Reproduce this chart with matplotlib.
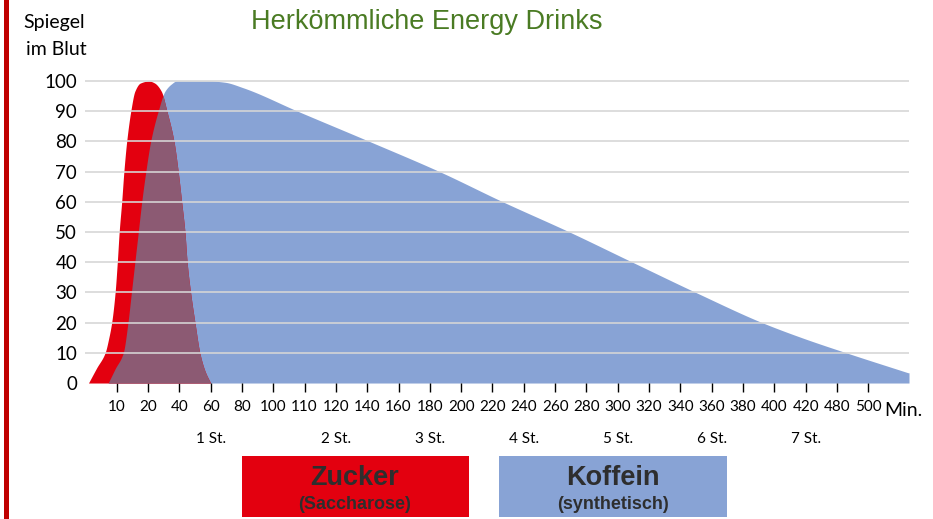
import matplotlib.pyplot as plt
import numpy as np
from matplotlib.patches import Rectangle

plt.rcParams['font.family'] = ['Lato', 'DejaVu Sans']

# x axis: minutes after intake (non-uniform labels, evenly spaced)
tick_minutes = [10, 20, 40, 60, 80, 100, 110, 120, 140, 160, 180, 200, 220, 240,
                260, 280, 300, 320, 340, 360, 380, 400, 420, 480, 500]
hour_labels = ['1 St.', '2 St.', '3 St.', '4 St.', '5 St.', '6 St.', '7 St.']
hour_minutes = [60, 120, 180, 240, 300, 360, 420]

# level in blood (%)
sugar_min = [1, 3.6, 6.3, 7.5, 8.4, 9.5, 10.2, 10.8, 11.6, 12.3, 13.2, 14.5, 15.8, 17.5,
             20.6, 24, 28.5, 32.1, 36.6, 39.3, 41.5, 43.6, 45.0, 47.2, 50, 53.1, 56.4, 60]
sugar_val = [0, 5, 10, 15, 20, 30, 40, 50, 60, 70, 80, 90, 96.6, 99.3,
             100, 99.4, 96.6, 90, 80, 70, 60, 50, 40, 30, 20, 10, 4, 0]

caffeine_min = [7.3, 9.5, 12.1, 13.6, 14.7, 15.8, 16.9, 18.0, 19.3, 21.7, 26.5, 30.8, 34.9,
                38.2, 59.6, 69, 80.6, 107.8, 141.4, 186.2, 226.6, 269.2, 309.4,
                349.8, 392.2, 417.6, 486, 525.4]
caffeine_val = [0, 4.7, 10, 20, 30, 40, 50, 60, 70, 80, 90, 96.6, 99,
                100, 100, 99.6, 97.8, 90, 80, 70, 60, 50, 40,
                30, 20, 15, 10, 3.4]

# piecewise mapping minutes -> slot on the axis
scale_min = [0] + tick_minutes + [540]
scale_pos = list(np.arange(-1, len(tick_minutes))) + [len(tick_minutes) + 1]


def to_pos(m):
    return np.interp(m, scale_min, scale_pos)


def pchip(x, y, xn):
    # monotone cubic (Fritsch-Carlson), keeps the curves smooth without overshoot
    x = np.asarray(x, float)
    y = np.asarray(y, float)
    h = np.diff(x)
    d = np.diff(y) / h
    m = np.zeros_like(y)
    for k in range(1, len(x) - 1):
        if d[k - 1] * d[k] > 0:
            w1 = 2 * h[k] + h[k - 1]
            w2 = h[k] + 2 * h[k - 1]
            m[k] = (w1 + w2) / (w1 / d[k - 1] + w2 / d[k])
    m[0] = d[0]
    m[-1] = d[-1]
    out = np.zeros_like(xn)
    inside = (xn >= x[0]) & (xn <= x[-1])
    xi = xn[inside]
    k = np.clip(np.searchsorted(x, xi) - 1, 0, len(x) - 2)
    t = (xi - x[k]) / h[k]
    h00 = 2 * t**3 - 3 * t**2 + 1
    h10 = t**3 - 2 * t**2 + t
    h01 = -2 * t**3 + 3 * t**2
    h11 = t**3 - t**2
    out[inside] = h00 * y[k] + h10 * h[k] * m[k] + h01 * y[k + 1] + h11 * h[k] * m[k + 1]
    out[xn > x[-1]] = y[-1]
    return out


RED = '#e3000f'
BLUE = '#88a3d5'
MIX = '#8c5a73'

fig = plt.figure(figsize=(9.33, 5.19), dpi=100)
ax = fig.add_axes([85.35 / 933, 0.262, 0.8828, 0.611])

xs = np.linspace(-1, 25.3, 4000)
red_y = pchip(to_pos(sugar_min), sugar_val, xs)
red_y[xs > to_pos(sugar_min[-1])] = 0
blue_y = pchip(to_pos(caffeine_min), caffeine_val, xs)

ax.fill_between(xs, 0, blue_y, color=BLUE, lw=0, zorder=1)
ax.fill_between(xs, 0, red_y, color=RED, lw=0, zorder=2)
ax.fill_between(xs, 0, np.minimum(red_y, blue_y), color=MIX, lw=0, zorder=2.5)

for v in range(10, 101, 10):
    ax.axhline(v, color='#d6d6d6', lw=1.3, alpha=0.9, zorder=3)

ax.set_xlim(-1, 25.3)
ax.set_ylim(0, 105)
for s in ax.spines.values():
    s.set_visible(False)
ax.patch.set_visible(False)

ax.set_yticks(range(0, 101, 10))
ax.tick_params(axis='y', length=0, pad=6, labelsize=13.5)
ax.set_xticks(to_pos(tick_minutes))
ax.set_xticklabels([str(t) for t in tick_minutes])
ax.tick_params(axis='x', direction='out', length=6.5, width=1, color='black',
               pad=6, labelsize=11)

for lab, m in zip(hour_labels, hour_minutes):
    ax.annotate(lab, xy=(to_pos(m), 0), xycoords=('data', 'axes fraction'),
                xytext=(0, -43.2), textcoords='offset points',
                ha='center', va='baseline', fontsize=11)
ax.annotate('Min.', xy=(24.5, 0), xycoords=('data', 'axes fraction'),
            xytext=(0, -23.8), textcoords='offset points',
            ha='left', va='baseline', fontsize=14)

W, H = 933, 519
fig.text(427 / W, 1 - 29 / H, 'Herkömmliche Energy Drinks', ha='center', va='baseline',
         fontsize=19.5, color='#4a7b23', family=['Liberation Sans Narrow', 'Liberation Sans'])
fig.text(54 / W, 1 - 28.3 / H, 'Spiegel', ha='center', va='baseline', fontsize=14)
fig.text(56 / W, 1 - 55 / H, 'im Blut', ha='center', va='baseline', fontsize=14)

# red frame line on the left
fig.add_artist(Rectangle((4 / W, 0), 5 / W, 1, transform=fig.transFigure,
                         color='#c00000', lw=0))

# legend boxes
fig.add_artist(Rectangle((242 / W, 2 / H), 227 / W, 61 / H, transform=fig.transFigure,
                         color=RED, lw=0))
fig.add_artist(Rectangle((499 / W, 2 / H), 228 / W, 61 / H, transform=fig.transFigure,
                         color=BLUE, lw=0))
legend_font = ['Liberation Sans', 'DejaVu Sans']
fig.text(355 / W, 1 - 485 / H, 'Zucker', ha='center', va='baseline', fontsize=19.5,
         fontweight='bold', color='#2e2e2e', family=legend_font)
fig.text(355 / W, 1 - 509 / H, '(Saccharose)', ha='center', va='baseline', fontsize=13,
         fontweight='bold', color='#2e2e2e', family=legend_font)
fig.text(613 / W, 1 - 485 / H, 'Koffein', ha='center', va='baseline', fontsize=19.5,
         fontweight='bold', color='#2e2e2e', family=legend_font)
fig.text(613 / W, 1 - 509 / H, '(synthetisch)', ha='center', va='baseline', fontsize=13,
         fontweight='bold', color='#2e2e2e', family=legend_font)

fig.savefig('out.png', dpi=100)
